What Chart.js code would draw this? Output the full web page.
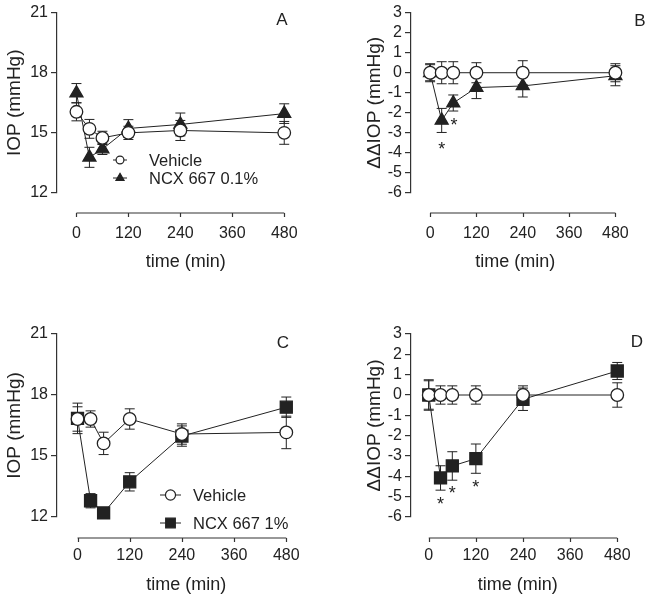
<!DOCTYPE html>
<html>
<head>
<meta charset="utf-8">
<title>IOP after NCX 667</title>
<script src="https://cdn.jsdelivr.net/npm/chart.js@4.4.1/dist/chart.umd.min.js"></script>
<style>
    body { margin: 0; background: #fff; width: 660px; height: 599px; overflow: hidden; position: relative; }
    canvas { position: absolute; }
</style>
</head>
<body>
<canvas id="panelA" width="330" height="300" style="left:0;top:0"></canvas>
<canvas id="panelB" width="330" height="300" style="left:330px;top:0"></canvas>
<canvas id="panelC" width="330" height="300" style="left:0;top:300px"></canvas>
<canvas id="panelD" width="330" height="300" style="left:330px;top:300px"></canvas>
<script>
// ---- data ----
const times = [0, 30, 60, 120, 240, 480];
const timeTicks = [0, 120, 240, 360, 480];

// A: IOP, NCX 667 0.1%
const vehicleA = [16.05, 15.2, 14.75, 15.0, 15.12, 15.0];
const vehicleAErr = [0.45, 0.47, 0.33, 0.33, 0.5, 0.57];
const ncxA = [16.98, 13.78, 14.19, 15.22, 15.42, 15.96];
const ncxAErr = [0.48, 0.5, 0.27, 0.44, 0.57, 0.49];

// B: delta-delta IOP, NCX 667 0.1%
const vehicleB = [0, 0, 0, 0, 0, 0];
const vehicleBErr = [0.45, 0.55, 0.55, 0.5, 0.6, 0.45];
const ncxB = [0, -2.38, -1.51, -0.74, -0.66, -0.15];
const ncxBErr = [0.4, 0.6, 0.4, 0.55, 0.55, 0.5];
const starsBTime = [30, 62];
const starsBValue = [-3.6, -2.4];

// C: IOP, NCX 667 1%
const vehicleC = [16.82, 16.82, 15.62, 16.82, 16.08, 16.16];
const vehicleCErr = [0.6, 0.4, 0.55, 0.5, 0.5, 0.8];
const ncxC = [16.85, 12.8, 12.2, 13.73, 15.98, 17.4];
const ncxCErr = [0.75, 0.35, 0.25, 0.45, 0.5, 0.5];

// D: delta-delta IOP, NCX 667 1%
const vehicleD = [0, 0, 0, 0, 0, 0];
const vehicleDErr = [0.75, 0.45, 0.45, 0.45, 0.45, 0.6];
const ncxD = [0, -4.08, -3.49, -3.13, -0.21, 1.18];
const ncxDErr = [0.7, 0.6, 0.7, 0.72, 0.55, 0.42];
const starsDTime = [30, 60, 120];
const starsDValue = [-5.18, -4.6, -4.33];

const vehicleLabel = "Vehicle";
const ncxLowLabel = "NCX 667 0.1%";
const ncxHighLabel = "NCX 667 1%";

const iopTicks = [12, 15, 18, 21];
const deltaTicks = [-6, -5, -4, -3, -2, -1, 0, 1, 2, 3];

// ---- styling ----
Chart.defaults.font.family = 'Arial, "Liberation Sans", Helvetica, sans-serif';
Chart.defaults.color = "#222";
const ink = "#222";

const circleStyle = { pointStyle: "circle", radius: 6.3, fill: "#fff" };

function panelChart(canvasId, p) {
    const box = p.box;
    const right = 318;
    const pxPerMin = (box.x480 - box.x0) / 480;
    const xMin = -(box.x0 - box.left) / pxPerMin;
    const xMax = xMin + (right - box.left) / pxPerMin;

    const datasets = p.series.map(s => ({
        label: s.label,
        data: times.map((t, i) => ({ x: t, y: s.values[i] })),
        borderColor: ink,
        borderWidth: 1,
        pointStyle: s.marker.pointStyle,
        pointRadius: s.marker.radius,
        pointBackgroundColor: s.marker.fill,
        pointBorderColor: ink,
        pointBorderWidth: 1.3,
        clip: false
    }));

    const extras = {
        id: "extras",
        beforeDatasetsDraw(chart) {
            const ctx = chart.ctx;
            const xs = chart.scales.x, ys = chart.scales.y;
            ctx.save();
            ctx.strokeStyle = ink;
            ctx.lineWidth = 1;
            p.series.forEach(s => {
                times.forEach((t, i) => {
                    const x = xs.getPixelForValue(t);
                    const top = ys.getPixelForValue(s.values[i] + s.errors[i]);
                    const bot = ys.getPixelForValue(s.values[i] - s.errors[i]);
                    ctx.beginPath();
                    ctx.moveTo(x, top); ctx.lineTo(x, bot);
                    ctx.moveTo(x - 5, top); ctx.lineTo(x + 5, top);
                    ctx.moveTo(x - 5, bot); ctx.lineTo(x + 5, bot);
                    ctx.stroke();
                });
            });
            ctx.restore();
        },
        afterDraw(chart) {
            const ctx = chart.ctx;
            const xs = chart.scales.x, ys = chart.scales.y;
            const area = chart.chartArea;
            ctx.save();
            // detached x axis
            const axisY = area.bottom + box.axisGap;
            ctx.strokeStyle = "#333";
            ctx.lineWidth = 1.2;
            ctx.beginPath();
            ctx.moveTo(xs.getPixelForValue(timeTicks[0]), axisY);
            ctx.lineTo(xs.getPixelForValue(timeTicks[timeTicks.length - 1]), axisY);
            timeTicks.forEach(t => {
                const x = Math.round(xs.getPixelForValue(t)) + 0.5;
                ctx.moveTo(x, axisY);
                ctx.lineTo(x, axisY + 4);
            });
            ctx.stroke();

            // significance stars
            ctx.fillStyle = ink;
            ctx.textAlign = "center";
            ctx.textBaseline = "alphabetic";
            ctx.font = '18px Arial, "Liberation Sans", sans-serif';
            p.starTimes.forEach((t, i) => {
                ctx.fillText("*", xs.getPixelForValue(t), ys.getPixelForValue(p.starValues[i]) + 10);
            });

            // panel letter
            ctx.font = '17px Arial, "Liberation Sans", sans-serif';
            ctx.textBaseline = "middle";
            ctx.fillText(p.letter, p.letterPos[0], p.letterPos[1]);

            // legend
            if (p.legend) {
                const lg = p.legend;
                p.series.forEach((s, i) => {
                    const y = lg.y + i * lg.rowH;
                    ctx.strokeStyle = ink;
                    ctx.lineWidth = 1;
                    ctx.beginPath();
                    ctx.moveTo(lg.x, y);
                    ctx.lineTo(lg.x + lg.lineLen, y);
                    ctx.stroke();
                    ctx.fillStyle = s.marker.fill;
                    ctx.strokeStyle = ink;
                    ctx.lineWidth = 1.2;
                    Chart.helpers.drawPoint(ctx, {
                        pointStyle: s.marker.pointStyle,
                        radius: s.marker.radius * lg.markerScale,
                        rotation: 0,
                        borderWidth: 1.2
                    }, lg.x + lg.lineLen / 2, y);
                    ctx.fillStyle = ink;
                    ctx.font = '16.5px Arial, "Liberation Sans", sans-serif';
                    ctx.textAlign = "left";
                    ctx.textBaseline = "middle";
                    ctx.fillText(s.label, lg.textX, y + 1);
                });
            }
            ctx.restore();
        }
    };

    return new Chart(document.getElementById(canvasId), {
        type: "line",
        data: { datasets },
        options: {
            responsive: false,
            animation: false,
            devicePixelRatio: 1,
            layout: { padding: { left: 0, top: box.top, right: 330 - right, bottom: 0 } },
            plugins: { legend: { display: false }, tooltip: { enabled: false } },
            scales: {
                x: {
                    type: "linear",
                    min: xMin,
                    max: xMax,
                    afterBuildTicks: scale => { scale.ticks = timeTicks.map(v => ({ value: v })); },
                    afterFit: scale => { scale.height = 300 - box.bottom; },
                    grid: { display: false, drawTicks: false },
                    border: { display: false },
                    ticks: { padding: box.labelPad, font: { size: 16 }, color: ink, maxRotation: 0, autoSkip: false },
                    title: { display: true, text: "time (min)", font: { size: 18 }, color: ink,
                             padding: { top: 0, bottom: box.titlePad } }
                },
                y: {
                    min: p.yMin,
                    max: p.yMax,
                    afterBuildTicks: scale => { scale.ticks = p.yTicks.map(v => ({ value: v })); },
                    afterFit: scale => { scale.width = box.left; },
                    grid: { display: true, drawOnChartArea: false, tickLength: 6, color: "#333", lineWidth: 1.2 },
                    border: { display: true, color: "#333", width: 1.2 },
                    ticks: { padding: 3, font: { size: 16 }, color: ink, autoSkip: false },
                    title: { display: true, text: p.yTitle, font: { size: 19 }, color: ink,
                             padding: { top: box.yTitlePad, bottom: 0 } }
                }
            }
        },
        plugins: [extras]
    });
}

panelChart("panelA", {
    letter: "A", letterPos: [282, 20],
    yMin: 12, yMax: 21, yTicks: iopTicks, yTitle: "IOP (mmHg)",
    box: { left: 57, top: 10, bottom: 193, x0: 76.7, x480: 287.3, axisGap: 20, labelPad: 31, titlePad: 27, yTitlePad: 3 },
    series: [
        { label: vehicleLabel, values: vehicleA, errors: vehicleAErr, marker: circleStyle },
        { label: ncxLowLabel, values: ncxA, errors: ncxAErr, marker: { pointStyle: "triangle", radius: 7.5, fill: ink } }
    ],
    starTimes: [], starValues: [],
    legend: { x: 113, y: 160, lineLen: 14, textX: 149, rowH: 18, markerScale: 0.62 }
});

panelChart("panelB", {
    letter: "B", letterPos: [310, 21],
    yMin: -6, yMax: 3, yTicks: deltaTicks, yTitle: "\u0394\u0394IOP (mmHg)",
    box: { left: 81, top: 10, bottom: 193, x0: 102.7, x480: 313.3, axisGap: 20, labelPad: 31, titlePad: 27, yTitlePad: 33.6 },
    series: [
        { label: vehicleLabel, values: vehicleB, errors: vehicleBErr, marker: circleStyle },
        { label: ncxLowLabel, values: ncxB, errors: ncxBErr, marker: { pointStyle: "triangle", radius: 7.5, fill: ink } }
    ],
    starTimes: starsBTime, starValues: starsBValue,
    legend: null
});

panelChart("panelC", {
    letter: "C", letterPos: [283, 43],
    yMin: 12, yMax: 21, yTicks: iopTicks, yTitle: "IOP (mmHg)",
    box: { left: 57, top: 34, bottom: 217, x0: 77.7, x480: 288.3, axisGap: 21, labelPad: 29, titlePad: 4, yTitlePad: 3.6 },
    series: [
        { label: vehicleLabel, values: vehicleC, errors: vehicleCErr, marker: circleStyle },
        { label: ncxHighLabel, values: ncxC, errors: ncxCErr, marker: { pointStyle: "rect", radius: 8.5, fill: ink } }
    ],
    starTimes: [], starValues: [],
    legend: { x: 160, y: 195, lineLen: 21, textX: 193, rowH: 28, markerScale: 0.8 }
});

panelChart("panelD", {
    letter: "D", letterPos: [307, 42],
    yMin: -6, yMax: 3, yTicks: deltaTicks, yTitle: "\u0394\u0394IOP (mmHg)",
    box: { left: 81, top: 34, bottom: 217, x0: 100.7, x480: 310, axisGap: 21, labelPad: 29, titlePad: 4, yTitlePad: 33.6 },
    series: [
        { label: vehicleLabel, values: vehicleD, errors: vehicleDErr, marker: circleStyle },
        { label: ncxHighLabel, values: ncxD, errors: ncxDErr, marker: { pointStyle: "rect", radius: 8.5, fill: ink } }
    ],
    starTimes: starsDTime, starValues: starsDValue,
    legend: null
});
</script>
</body>
</html>
